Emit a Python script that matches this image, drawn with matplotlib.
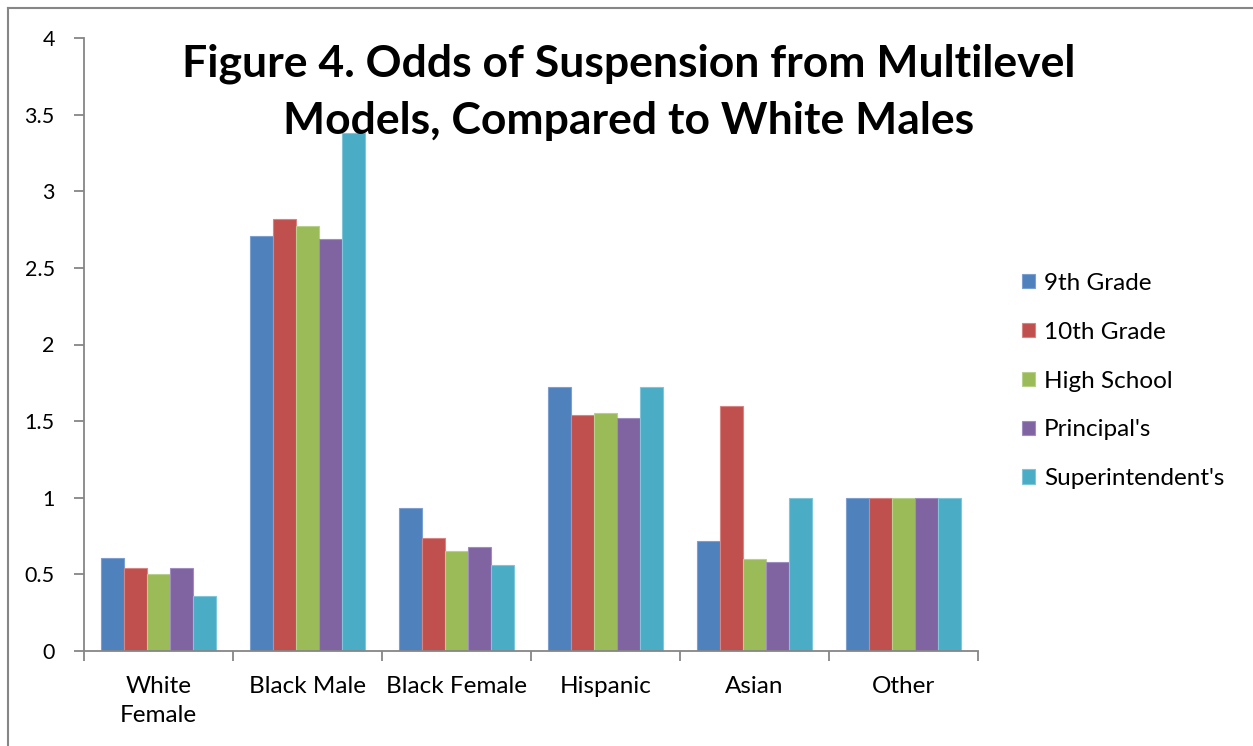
import numpy as np
import matplotlib
matplotlib.use("Agg")
import matplotlib.pyplot as plt
from matplotlib.lines import Line2D

plt.rcParams['font.family'] = ['Lato', 'DejaVu Sans']

# data
groups = ["White\nFemale", "Black Male", "Black Female", "Hispanic", "Asian", "Other"]
series = ["9th Grade", "10th Grade", "High School", "Principal's", "Superintendent's"]
grade9 = [0.61, 2.71, 0.93, 1.72, 0.72, 1.0]
grade10 = [0.54, 2.82, 0.74, 1.54, 1.60, 1.0]
high_school = [0.50, 2.77, 0.65, 1.55, 0.60, 1.0]
principal = [0.54, 2.69, 0.68, 1.52, 0.58, 1.0]
superintendent = [0.36, 3.38, 0.56, 1.72, 1.00, 1.0]
colors = ["#4F81BD", "#C0504D", "#9BBB59", "#8064A2", "#4BACC6"]
edges = ["#7A9FD0", "#D98482", "#B7D08A", "#A08CC0", "#7FC6DA"]

values = [grade9, grade10, high_school, principal, superintendent]

fig = plt.figure(figsize=(12.53, 7.46), dpi=100)
ax = fig.add_axes([84/1253, 1-651/746, (978-84)/1253, (651-38)/746])

x = np.arange(len(groups))
w = 0.155
for i, (vals, c, e) in enumerate(zip(values, colors, edges)):
    ax.bar(x + (i - 2) * w, vals, w, color=c, edgecolor=e, linewidth=0.8, label=series[i])

ax.set_xlim(-0.5, len(groups) - 0.5)
ax.set_ylim(0, 4)
ax.set_yticks(np.arange(0, 4.01, 0.5))
ax.set_yticklabels(["0", "0.5", "1", "1.5", "2", "2.5", "3", "3.5", "4"])
ax.set_xticks(x)
ax.set_xticklabels(groups)
ax.set_xticks(np.arange(-0.5, len(groups), 1), minor=True)

gray = "#868686"
for s in ["top", "right"]:
    ax.spines[s].set_visible(False)
for s in ["left", "bottom"]:
    ax.spines[s].set_color(gray)
    ax.spines[s].set_linewidth(1.3)
ax.tick_params(axis="y", length=7, width=1.3, color=gray, labelsize=15.5, pad=14)
ax.tick_params(axis="x", which="major", length=0, labelsize=17.5, pad=18)
ax.tick_params(axis="x", which="minor", length=7, width=1.3, color=gray)

fig.text(0.502, 1-44/746, "Figure 4. Odds of Suspension from Multilevel\nModels, Compared to White Males",
         ha="center", va="top", fontsize=32, fontweight="bold", linespacing=1.5)

ax.legend(loc="center left", bbox_to_anchor=(1000/1253, 1-381/746), bbox_transform=fig.transFigure,
          frameon=False, fontsize=17.5, labelspacing=1.15, handlelength=0.55, handleheight=0.55,
          handletextpad=0.35)

# chart border (left and top edges visible in the reference)
fig.add_artist(Line2D([8/1253, 8/1253], [0, 1-8/746], color=gray, lw=1.5, transform=fig.transFigure))
fig.add_artist(Line2D([8/1253, 1], [1-8/746, 1-8/746], color=gray, lw=1.5, transform=fig.transFigure))

# wider line gap for the two-line category label
fig.canvas.draw()
for tick in ax.xaxis.get_major_ticks():
    tick.label1.set_linespacing(1.5)

fig.savefig("out.png", dpi=100)
